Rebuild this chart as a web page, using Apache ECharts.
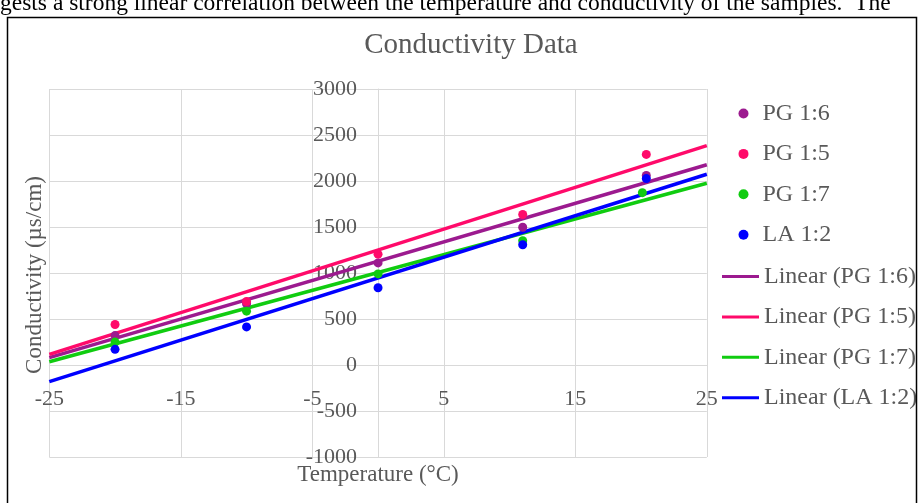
<!DOCTYPE html>
<html>
<head>
<meta charset="utf-8">
<script src="https://cdn.jsdelivr.net/npm/echarts@6/dist/echarts.min.js"></script>
<style>
html,body{margin:0;padding:0;background:#fff;}
#c{width:924px;height:503px;}
</style>
</head>
<body>
<div id="c"></div>
<script>
// ---- data ----
const seriesNames = ['PG 1:6', 'PG 1:5', 'PG 1:7', 'LA 1:2'];
const xPG16 = [-20, -10, 0, 11, 20.4];
const pg16  = [320, 665, 1110, 1497, 2060];
const xPG15 = [-20, -10, 0, 11, 20.4];
const pg15  = [440, 690, 1205, 1636, 2289];
const xPG17 = [-20, -10, 0, 11, 20.1];
const pg17  = [250, 585, 990, 1351, 1873];
const xLA12 = [-20, -10, 0, 11, 20.4];
const la12  = [170, 414, 840, 1307, 2026];

// trend line end values at x = -25 and x = 25
const trendX    = [-25, 25];
const trendPG16 = [80, 2177];
const trendPG15 = [116, 2384];
const trendPG17 = [36, 1975];
const trendLA12 = [-181, 2073];

const colors = ['#9c1a8f', '#ff0a6a', '#10cc10', '#0000ff'];
const serif = '"Liberation Serif", "Times New Roman", serif';
const grey = '#595959';

function pts(xs, ys){ return xs.map((x,i)=>[x, ys[i]]); }

const pointSets = [pts(xPG16,pg16), pts(xPG15,pg15), pts(xPG17,pg17), pts(xLA12,la12)];
const trendSets = [pts(trendX,trendPG16), pts(trendX,trendPG15), pts(trendX,trendPG17), pts(trendX,trendLA12)];

const series = [];
seriesNames.forEach((n,i)=>{
  series.push({
    name: 'Linear (' + n + ')', type: 'line', data: trendSets[i],
    symbol: 'none', showSymbol: false, z: 2,
    lineStyle: {color: colors[i], width: 3.5}, itemStyle: {color: colors[i]},
    animation: false
  });
});
seriesNames.forEach((n,i)=>{
  series.push({
    name: n, type: 'scatter', data: pointSets[i], symbolSize: 9, z: 3,
    itemStyle: {color: colors[i], opacity: 1}, animation: false
  });
});

const gridLeft = 49.3, gridRight = 217.2, gridTop = 89, gridBottom = 46;
const W = 924, H = 503;
const plotW = W - gridLeft - gridRight, plotH = H - gridTop - gridBottom;
// offsets so that the axis lines sit on the zero values
const yAxisOffset = -plotW * (0 - (-25)) / 50;
const xAxisOffset = -plotH * (0 - (-1000)) / 4000;

const chart = echarts.init(document.getElementById('c'));
chart.setOption({
  animation: false,
  backgroundColor: '#fff',
  grid: {left: gridLeft, right: gridRight, top: gridTop, bottom: gridBottom, containLabel: false, outerBoundsMode: 'none'},
  xAxis: {
    type: 'value', min: -25, max: 25, interval: 10, position: 'bottom', offset: xAxisOffset,
    axisLine: {show: true, onZero: false, lineStyle: {color: '#d9d9d9', width: 1}},
    axisTick: {show: false},
    splitLine: {show: true, lineStyle: {color: '#d9d9d9', width: 1}},
    axisLabel: {margin: 23, fontSize: 22, color: grey, fontFamily: serif, formatter: v => String(v)}
  },
  yAxis: {
    type: 'value', min: -1000, max: 3000, interval: 500, position: 'left', offset: yAxisOffset,
    axisLine: {show: true, onZero: false, lineStyle: {color: '#d9d9d9', width: 1}},
    axisTick: {show: false},
    splitLine: {show: true, lineStyle: {color: '#d9d9d9', width: 1}},
    axisLabel: {margin: 21, fontSize: 22, color: grey, fontFamily: serif, formatter: v => String(v)}
  },
  legend: [
    {
      data: seriesNames, orient: 'vertical', left: 733.5, top: 96.5,
      itemWidth: 10, itemHeight: 20, itemGap: 16.4,
      icon: 'circle',
      textStyle: {fontSize: 24, color: grey, fontFamily: serif, lineHeight: 20, padding: [0, 0, 0, 9]}
    },
    {
      data: seriesNames.map(n=>'Linear (' + n + ')'), orient: 'vertical', left: 717, top: 259.5,
      itemWidth: 37, itemHeight: 3, itemGap: 16.4,
      icon: 'rect',
      textStyle: {fontSize: 24, color: grey, fontFamily: serif, lineHeight: 20}
    }
  ],
  graphic: [
    {type: 'text', left: 0, top: -8, style: {text: 'gests a strong linear correlation between the temperature and conductivity of the samples.  The', fontSize: 23.5, fill: '#000', fontFamily: serif}},
    {type: 'rect', shape: {x: 7.5, y: 17.5, width: 909, height: 500}, style: {fill: 'none', stroke: '#000', lineWidth: 1.5}, z: 100},
    {type: 'text', x: 471, y: 45, style: {text: 'Conductivity Data', fontSize: 29, fill: grey, fontFamily: serif, textAlign: 'center', textVerticalAlign: 'middle'}},
    {type: 'text', x: 378, y: 475, style: {text: 'Temperature (°C)', fontSize: 23, fill: grey, fontFamily: serif, textAlign: 'center', textVerticalAlign: 'middle'}},
    {type: 'text', x: 35, y: 275, rotation: Math.PI/2, style: {text: 'Conductivity (µs/cm)', fontSize: 23, fill: grey, fontFamily: serif, textAlign: 'center', textVerticalAlign: 'middle'}}
  ],
  series: series
});
</script>
</body>
</html>
